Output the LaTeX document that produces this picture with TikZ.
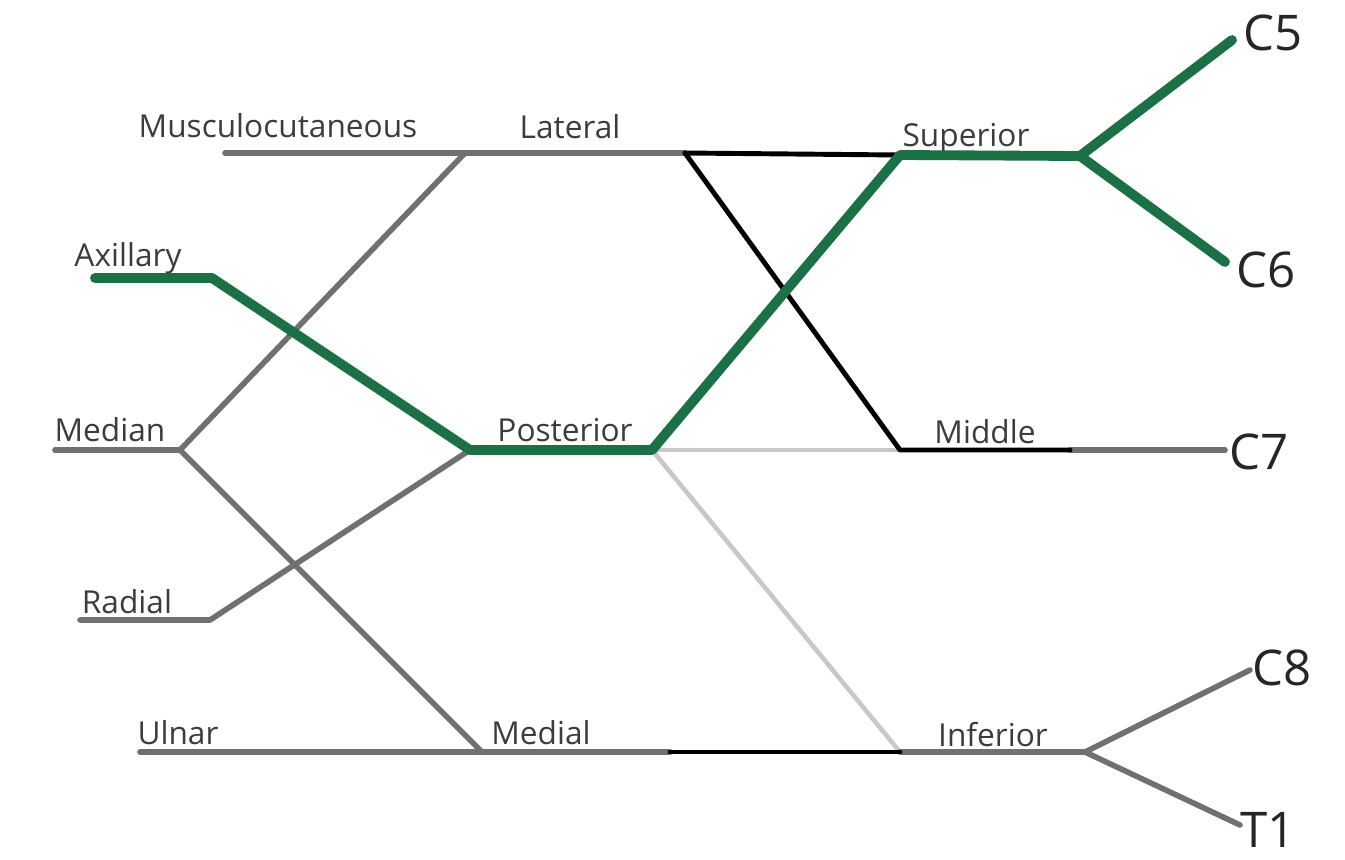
\documentclass[tikz,border=0pt]{standalone}
\usepackage{fontspec}
\setmainfont{Open Sans}
\definecolor{nerve}{RGB}{112,112,112}
\definecolor{faint}{RGB}{200,200,200}
\definecolor{trunkgreen}{RGB}{28,112,70}
\definecolor{labelgray}{RGB}{60,60,60}
\begin{document}
\begin{tikzpicture}[x=0.02cm,y=-0.02cm,line join=round,line cap=round,
  grayline/.style={draw=nerve,line width=3.2pt},
  faintline/.style={draw=faint,line width=2.6pt},
  blackline/.style={draw=black,line width=2.8pt},
  greenline/.style={draw=trunkgreen,line width=5.6pt},
  lbl/.style={text=labelgray,font=\fontsize{18}{18}\selectfont,inner sep=0pt},
  root/.style={text=black!85,font=\fontsize{28}{28}\selectfont,inner sep=0pt}]
\useasboundingbox (0,0) rectangle (1345,859);
% junction coordinates
\coordinate (mcEnd) at (225,153);
\coordinate (lat) at (465,153);
\coordinate (latR) at (685,153);
\coordinate (sup) at (900,155);
\coordinate (supR) at (1080,156);
\coordinate (c5end) at (1232,40);
\coordinate (c6end) at (1225,262);
\coordinate (axEnd) at (95,278);
\coordinate (axB) at (212,278);
\coordinate (post) at (470,450);
\coordinate (postR) at (652,450);
\coordinate (medEnd) at (55,450);
\coordinate (med) at (180,450);
\coordinate (radEnd) at (80,620);
\coordinate (radB) at (210,620);
\coordinate (mid) at (900,450);
\coordinate (midR) at (1070,450);
\coordinate (c7end) at (1225,450);
\coordinate (ulEnd) at (140,752);
\coordinate (medial) at (482,752);
\coordinate (medialM) at (670,752);
\coordinate (inf) at (900,752);
\coordinate (infR) at (1085,752);
\coordinate (c8end) at (1250,670);
\coordinate (t1end) at (1240,825);
% labels
\node[lbl] (tMC) at (278,126) {Musculocutaneous};
\node[lbl] (tLat) at (570,127) {Lateral};
\node[lbl] (tSup) at (966,139) {Superior};
\node[lbl] (tAx) at (128,258) {Axillary};
\node[lbl] (tMed) at (110,430) {Median};
\node[lbl] (tPost) at (565,430) {Posterior};
\node[lbl] (tMid) at (985,432) {Middle};
\node[lbl] (tRad) at (127,602) {Radial};
\node[lbl] (tUl) at (178,733) {Ulnar};
\node[lbl] (tMedial) at (541,733) {Medial};
\node[lbl] (tInf) at (993,735) {Inferior};
\node[root,anchor=west] (C5) at (1243,33) {C5};
\node[root,anchor=west] (C6) at (1236,270) {C6};
\node[root,anchor=west] (C7) at (1229,452) {C7};
\node[root,anchor=west] (C8) at (1252,668) {C8};
\node[root,anchor=west] (T1) at (1240,830) {T1};
% faint posterior branches
\draw[faintline] (postR) -- (mid);
\draw[faintline] (postR) -- (inf);
% gray nerves
\draw[grayline] (mcEnd) -- (latR);
\draw[grayline] (medEnd) -- (med);
\draw[grayline] (med) -- (lat);
\draw[grayline] (med) -- (medial);
\draw[grayline] (radEnd) -- (radB) -- (post);
\draw[grayline] (ulEnd) -- (medialM);
\draw[grayline] (midR) -- (c7end);
\draw[grayline] (inf) -- (infR);
\draw[grayline] (infR) -- (c8end);
\draw[grayline] (infR) -- (t1end);
% black divisions
\draw[blackline] (latR) -- (sup);
\draw[blackline] (latR) -- (mid) -- (midR);
\draw[blackline] (medialM) -- (inf);
% green path
\draw[greenline] (axEnd) -- (axB) -- (post) -- (postR) -- (sup) -- (supR);
\draw[greenline] (supR) -- (c5end);
\draw[greenline] (supR) -- (c6end);
\end{tikzpicture}
\end{document}
